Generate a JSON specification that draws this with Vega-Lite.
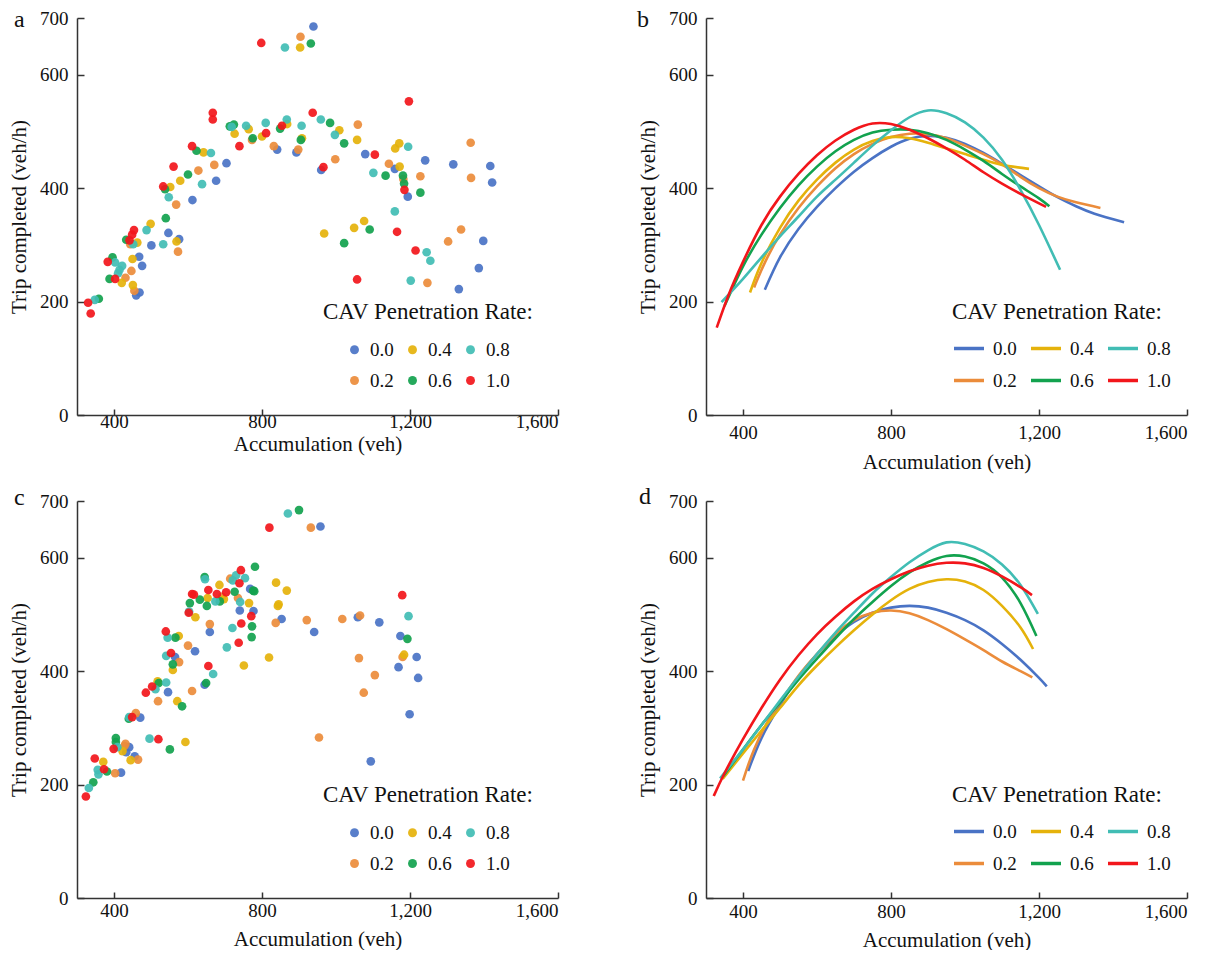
{
"$schema": "https://vega.github.io/schema/vega-lite/v6.json",
"padding": {"left": 8, "top": 7, "right": 5, "bottom": 0},
"config": {
  "font": "Liberation Serif",
  "view": {"stroke": null},
  "axis": {"grid": false, "domainColor": "#333", "domainWidth": 1.5, "tickColor": "#333", "tickWidth": 1.5, "labelFont": "Liberation Serif", "titleFont": "Liberation Serif", "labelFontSize": 19, "titleFontSize": 21, "titleFontWeight": "normal", "labelColor": "#111", "titleColor": "#111"},
  "axisX": {"tickSize": -6},
  "axisY": {"tickSize": -7, "labelPadding": 16, "titlePadding": 10},
  "title": {"font": "Liberation Serif", "fontSize": 24, "fontWeight": "normal", "color": "#111"},
  "legend": {"titleLimit": 400, "titleFontSize": 23, "titleFontWeight": "normal", "titleColor": "#111", "titleFont": "Liberation Serif", "labelFont": "Liberation Serif", "labelFontSize": 19, "labelColor": "#111"}
},
"datasets": {
  "sa": [
{"r":"0.0","x":460,"y":211},{"r":"0.0","x":469,"y":216},{"r":"0.0","x":476,"y":263},{"r":"0.0","x":468,"y":279},{"r":"0.0","x":501,"y":299},{"r":"0.0","x":576,"y":310},{"r":"0.0","x":547,"y":321},{"r":"0.0","x":612,"y":379},{"r":"0.0","x":676,"y":413},{"r":"0.0","x":704,"y":444},{"r":"0.0","x":939,"y":685},{"r":"0.0","x":841,"y":468},{"r":"0.0","x":893,"y":463},{"r":"0.0","x":960,"y":432},{"r":"0.0","x":1079,"y":460},{"r":"0.0","x":1159,"y":434},{"r":"0.0","x":1194,"y":385},{"r":"0.0","x":1241,"y":449},{"r":"0.0","x":1317,"y":442},{"r":"0.0","x":1417,"y":439},{"r":"0.0","x":1422,"y":410},{"r":"0.0","x":1398,"y":307},{"r":"0.0","x":1386,"y":259},{"r":"0.0","x":1332,"y":222},
{"r":"0.2","x":455,"y":219},{"r":"0.2","x":431,"y":242},{"r":"0.2","x":447,"y":254},{"r":"0.2","x":444,"y":301},{"r":"0.2","x":573,"y":288},{"r":"0.2","x":568,"y":371},{"r":"0.2","x":628,"y":431},{"r":"0.2","x":671,"y":441},{"r":"0.2","x":904,"y":667},{"r":"0.2","x":773,"y":485},{"r":"0.2","x":832,"y":474},{"r":"0.2","x":898,"y":468},{"r":"0.2","x":998,"y":451},{"r":"0.2","x":1059,"y":512},{"r":"0.2","x":1143,"y":443},{"r":"0.2","x":1182,"y":416},{"r":"0.2","x":1228,"y":421},{"r":"0.2","x":1364,"y":480},{"r":"0.2","x":1365,"y":418},{"r":"0.2","x":1338,"y":327},{"r":"0.2","x":1303,"y":306},{"r":"0.2","x":1247,"y":233},
{"r":"0.4","x":451,"y":229},{"r":"0.4","x":421,"y":233},{"r":"0.4","x":450,"y":275},{"r":"0.4","x":463,"y":304},{"r":"0.4","x":569,"y":306},{"r":"0.4","x":499,"y":337},{"r":"0.4","x":552,"y":402},{"r":"0.4","x":579,"y":413},{"r":"0.4","x":642,"y":463},{"r":"0.4","x":903,"y":648},{"r":"0.4","x":726,"y":496},{"r":"0.4","x":764,"y":504},{"r":"0.4","x":800,"y":491},{"r":"0.4","x":868,"y":513},{"r":"0.4","x":908,"y":488},{"r":"0.4","x":1009,"y":502},{"r":"0.4","x":1057,"y":485},{"r":"0.4","x":1160,"y":470},{"r":"0.4","x":1171,"y":479},{"r":"0.4","x":1172,"y":438},{"r":"0.4","x":1076,"y":342},{"r":"0.4","x":1049,"y":330},{"r":"0.4","x":968,"y":320},
{"r":"0.6","x":359,"y":205},{"r":"0.6","x":388,"y":240},{"r":"0.6","x":396,"y":278},{"r":"0.6","x":433,"y":309},{"r":"0.6","x":540,"y":347},{"r":"0.6","x":538,"y":398},{"r":"0.6","x":600,"y":424},{"r":"0.6","x":623,"y":466},{"r":"0.6","x":932,"y":655},{"r":"0.6","x":713,"y":509},{"r":"0.6","x":724,"y":512},{"r":"0.6","x":775,"y":488},{"r":"0.6","x":849,"y":505},{"r":"0.6","x":905,"y":485},{"r":"0.6","x":984,"y":515},{"r":"0.6","x":1022,"y":479},{"r":"0.6","x":1134,"y":422},{"r":"0.6","x":1181,"y":422},{"r":"0.6","x":1184,"y":408},{"r":"0.6","x":1228,"y":392},{"r":"0.6","x":1091,"y":327},{"r":"0.6","x":1022,"y":303},
{"r":"0.8","x":348,"y":203},{"r":"0.8","x":411,"y":250},{"r":"0.8","x":415,"y":256},{"r":"0.8","x":422,"y":263},{"r":"0.8","x":403,"y":269},{"r":"0.8","x":452,"y":301},{"r":"0.8","x":533,"y":301},{"r":"0.8","x":488,"y":326},{"r":"0.8","x":548,"y":384},{"r":"0.8","x":638,"y":407},{"r":"0.8","x":662,"y":462},{"r":"0.8","x":862,"y":648},{"r":"0.8","x":718,"y":508},{"r":"0.8","x":757,"y":510},{"r":"0.8","x":810,"y":515},{"r":"0.8","x":867,"y":521},{"r":"0.8","x":907,"y":510},{"r":"0.8","x":959,"y":521},{"r":"0.8","x":997,"y":494},{"r":"0.8","x":1101,"y":427},{"r":"0.8","x":1195,"y":473},{"r":"0.8","x":1159,"y":359},{"r":"0.8","x":1245,"y":287},{"r":"0.8","x":1255,"y":272},{"r":"0.8","x":1202,"y":237},
{"r":"1.0","x":330,"y":198},{"r":"1.0","x":337,"y":179},{"r":"1.0","x":403,"y":240},{"r":"1.0","x":383,"y":270},{"r":"1.0","x":442,"y":308},{"r":"1.0","x":449,"y":318},{"r":"1.0","x":454,"y":326},{"r":"1.0","x":533,"y":403},{"r":"1.0","x":561,"y":438},{"r":"1.0","x":611,"y":474},{"r":"1.0","x":667,"y":533},{"r":"1.0","x":667,"y":521},{"r":"1.0","x":798,"y":656},{"r":"1.0","x":739,"y":474},{"r":"1.0","x":811,"y":497},{"r":"1.0","x":854,"y":510},{"r":"1.0","x":937,"y":533},{"r":"1.0","x":966,"y":437},{"r":"1.0","x":1105,"y":459},{"r":"1.0","x":1185,"y":397},{"r":"1.0","x":1197,"y":553},{"r":"1.0","x":1165,"y":323},{"r":"1.0","x":1215,"y":290},{"r":"1.0","x":1057,"y":239}
  ],
  "sc": [
{"r":"0.0","x":419,"y":221},{"r":"0.0","x":441,"y":266},{"r":"0.0","x":433,"y":257},{"r":"0.0","x":456,"y":250},{"r":"0.0","x":471,"y":318},{"r":"0.0","x":546,"y":363},{"r":"0.0","x":565,"y":425},{"r":"0.0","x":619,"y":435},{"r":"0.0","x":645,"y":376},{"r":"0.0","x":659,"y":469},{"r":"0.0","x":740,"y":507},{"r":"0.0","x":768,"y":545},{"r":"0.0","x":777,"y":506},{"r":"0.0","x":958,"y":655},{"r":"0.0","x":853,"y":492},{"r":"0.0","x":941,"y":469},{"r":"0.0","x":1059,"y":495},{"r":"0.0","x":1117,"y":486},{"r":"0.0","x":1174,"y":462},{"r":"0.0","x":1218,"y":425},{"r":"0.0","x":1169,"y":407},{"r":"0.0","x":1222,"y":388},{"r":"0.0","x":1199,"y":324},{"r":"0.0","x":1094,"y":241},
{"r":"0.2","x":403,"y":220},{"r":"0.2","x":431,"y":272},{"r":"0.2","x":428,"y":268},{"r":"0.2","x":465,"y":244},{"r":"0.2","x":459,"y":326},{"r":"0.2","x":519,"y":347},{"r":"0.2","x":611,"y":365},{"r":"0.2","x":576,"y":416},{"r":"0.2","x":600,"y":445},{"r":"0.2","x":659,"y":483},{"r":"0.2","x":692,"y":531},{"r":"0.2","x":714,"y":563},{"r":"0.2","x":735,"y":529},{"r":"0.2","x":932,"y":653},{"r":"0.2","x":837,"y":485},{"r":"0.2","x":921,"y":490},{"r":"0.2","x":1017,"y":492},{"r":"0.2","x":1065,"y":498},{"r":"0.2","x":1180,"y":425},{"r":"0.2","x":1062,"y":423},{"r":"0.2","x":1105,"y":393},{"r":"0.2","x":1075,"y":362},{"r":"0.2","x":954,"y":283},
{"r":"0.4","x":371,"y":240},{"r":"0.4","x":423,"y":259},{"r":"0.4","x":445,"y":243},{"r":"0.4","x":593,"y":275},{"r":"0.4","x":518,"y":382},{"r":"0.4","x":571,"y":347},{"r":"0.4","x":559,"y":402},{"r":"0.4","x":575,"y":462},{"r":"0.4","x":620,"y":495},{"r":"0.4","x":653,"y":529},{"r":"0.4","x":685,"y":552},{"r":"0.4","x":697,"y":527},{"r":"0.4","x":751,"y":410},{"r":"0.4","x":765,"y":520},{"r":"0.4","x":838,"y":556},{"r":"0.4","x":867,"y":542},{"r":"0.4","x":843,"y":515},{"r":"0.4","x":845,"y":518},{"r":"0.4","x":819,"y":424},{"r":"0.4","x":1184,"y":429},
{"r":"0.6","x":344,"y":204},{"r":"0.6","x":381,"y":223},{"r":"0.6","x":405,"y":282},{"r":"0.6","x":405,"y":275},{"r":"0.6","x":551,"y":262},{"r":"0.6","x":440,"y":316},{"r":"0.6","x":521,"y":379},{"r":"0.6","x":584,"y":338},{"r":"0.6","x":649,"y":379},{"r":"0.6","x":566,"y":459},{"r":"0.6","x":559,"y":412},{"r":"0.6","x":605,"y":520},{"r":"0.6","x":632,"y":526},{"r":"0.6","x":651,"y":515},{"r":"0.6","x":645,"y":566},{"r":"0.6","x":686,"y":523},{"r":"0.6","x":726,"y":540},{"r":"0.6","x":781,"y":584},{"r":"0.6","x":776,"y":542},{"r":"0.6","x":779,"y":541},{"r":"0.6","x":773,"y":479},{"r":"0.6","x":772,"y":460},{"r":"0.6","x":900,"y":684},{"r":"0.6","x":1193,"y":457},
{"r":"0.8","x":332,"y":194},{"r":"0.8","x":358,"y":218},{"r":"0.8","x":356,"y":226},{"r":"0.8","x":409,"y":266},{"r":"0.8","x":496,"y":281},{"r":"0.8","x":441,"y":319},{"r":"0.8","x":512,"y":368},{"r":"0.8","x":541,"y":380},{"r":"0.8","x":668,"y":395},{"r":"0.8","x":545,"y":459},{"r":"0.8","x":541,"y":427},{"r":"0.8","x":705,"y":442},{"r":"0.8","x":720,"y":476},{"r":"0.8","x":603,"y":505},{"r":"0.8","x":646,"y":562},{"r":"0.8","x":674,"y":523},{"r":"0.8","x":721,"y":560},{"r":"0.8","x":730,"y":569},{"r":"0.8","x":754,"y":564},{"r":"0.8","x":741,"y":522},{"r":"0.8","x":870,"y":678},{"r":"0.8","x":1196,"y":497},
{"r":"1.0","x":324,"y":179},{"r":"1.0","x":373,"y":227},{"r":"1.0","x":348,"y":246},{"r":"1.0","x":399,"y":263},{"r":"1.0","x":520,"y":280},{"r":"1.0","x":449,"y":319},{"r":"1.0","x":486,"y":362},{"r":"1.0","x":503,"y":373},{"r":"1.0","x":655,"y":409},{"r":"1.0","x":540,"y":470},{"r":"1.0","x":554,"y":432},{"r":"1.0","x":737,"y":450},{"r":"1.0","x":744,"y":484},{"r":"1.0","x":602,"y":503},{"r":"1.0","x":611,"y":536},{"r":"1.0","x":616,"y":535},{"r":"1.0","x":655,"y":543},{"r":"1.0","x":678,"y":536},{"r":"1.0","x":703,"y":539},{"r":"1.0","x":743,"y":578},{"r":"1.0","x":739,"y":555},{"r":"1.0","x":771,"y":497},{"r":"1.0","x":820,"y":653},{"r":"1.0","x":1179,"y":534}
  ],
  "lb": [
{"r":"0.0","x":459,"y":221},{"r":"0.0","x":500,"y":278},{"r":"0.0","x":550,"y":328},{"r":"0.0","x":600,"y":367},{"r":"0.0","x":650,"y":400},{"r":"0.0","x":700,"y":429},{"r":"0.0","x":750,"y":453},{"r":"0.0","x":800,"y":473},{"r":"0.0","x":850,"y":487},{"r":"0.0","x":900,"y":492},{"r":"0.0","x":950,"y":489},{"r":"0.0","x":1000,"y":478},{"r":"0.0","x":1050,"y":462},{"r":"0.0","x":1100,"y":443},{"r":"0.0","x":1150,"y":423},{"r":"0.0","x":1200,"y":403},{"r":"0.0","x":1250,"y":384},{"r":"0.0","x":1300,"y":368},{"r":"0.0","x":1350,"y":355},{"r":"0.0","x":1430,"y":340},
{"r":"0.2","x":430,"y":225},{"r":"0.2","x":460,"y":270},{"r":"0.2","x":500,"y":318},{"r":"0.2","x":550,"y":365},{"r":"0.2","x":600,"y":403},{"r":"0.2","x":650,"y":435},{"r":"0.2","x":700,"y":460},{"r":"0.2","x":750,"y":478},{"r":"0.2","x":800,"y":490},{"r":"0.2","x":850,"y":496},{"r":"0.2","x":900,"y":495},{"r":"0.2","x":950,"y":488},{"r":"0.2","x":1000,"y":475},{"r":"0.2","x":1050,"y":460},{"r":"0.2","x":1100,"y":442},{"r":"0.2","x":1150,"y":420},{"r":"0.2","x":1200,"y":400},{"r":"0.2","x":1250,"y":385},{"r":"0.2","x":1300,"y":375},{"r":"0.2","x":1366,"y":365},
{"r":"0.4","x":419,"y":216},{"r":"0.4","x":450,"y":268},{"r":"0.4","x":500,"y":330},{"r":"0.4","x":550,"y":378},{"r":"0.4","x":600,"y":415},{"r":"0.4","x":650,"y":445},{"r":"0.4","x":700,"y":468},{"r":"0.4","x":750,"y":483},{"r":"0.4","x":800,"y":490},{"r":"0.4","x":850,"y":488},{"r":"0.4","x":900,"y":480},{"r":"0.4","x":950,"y":470},{"r":"0.4","x":1000,"y":460},{"r":"0.4","x":1050,"y":450},{"r":"0.4","x":1100,"y":441},{"r":"0.4","x":1173,"y":434},
{"r":"0.6","x":350,"y":192},{"r":"0.6","x":400,"y":262},{"r":"0.6","x":450,"y":318},{"r":"0.6","x":500,"y":365},{"r":"0.6","x":550,"y":405},{"r":"0.6","x":600,"y":438},{"r":"0.6","x":650,"y":465},{"r":"0.6","x":700,"y":485},{"r":"0.6","x":750,"y":498},{"r":"0.6","x":800,"y":503},{"r":"0.6","x":850,"y":503},{"r":"0.6","x":900,"y":497},{"r":"0.6","x":950,"y":485},{"r":"0.6","x":1000,"y":468},{"r":"0.6","x":1050,"y":448},{"r":"0.6","x":1100,"y":425},{"r":"0.6","x":1150,"y":403},{"r":"0.6","x":1200,"y":382},{"r":"0.6","x":1228,"y":368},
{"r":"0.8","x":342,"y":199},{"r":"0.8","x":400,"y":240},{"r":"0.8","x":450,"y":278},{"r":"0.8","x":500,"y":315},{"r":"0.8","x":550,"y":350},{"r":"0.8","x":600,"y":385},{"r":"0.8","x":650,"y":415},{"r":"0.8","x":700,"y":445},{"r":"0.8","x":750,"y":475},{"r":"0.8","x":800,"y":502},{"r":"0.8","x":850,"y":525},{"r":"0.8","x":900,"y":537},{"r":"0.8","x":950,"y":532},{"r":"0.8","x":1000,"y":516},{"r":"0.8","x":1050,"y":489},{"r":"0.8","x":1100,"y":450},{"r":"0.8","x":1150,"y":397},{"r":"0.8","x":1200,"y":335},{"r":"0.8","x":1257,"y":256},
{"r":"1.0","x":329,"y":154},{"r":"1.0","x":360,"y":210},{"r":"1.0","x":400,"y":270},{"r":"1.0","x":450,"y":335},{"r":"1.0","x":500,"y":385},{"r":"1.0","x":550,"y":425},{"r":"1.0","x":600,"y":458},{"r":"1.0","x":650,"y":484},{"r":"1.0","x":700,"y":503},{"r":"1.0","x":750,"y":514},{"r":"1.0","x":800,"y":513},{"r":"1.0","x":850,"y":503},{"r":"1.0","x":900,"y":488},{"r":"1.0","x":950,"y":470},{"r":"1.0","x":1000,"y":450},{"r":"1.0","x":1050,"y":428},{"r":"1.0","x":1100,"y":408},{"r":"1.0","x":1150,"y":390},{"r":"1.0","x":1219,"y":367}
  ],
  "ld": [
{"r":"0.0","x":414,"y":224},{"r":"0.0","x":450,"y":282},{"r":"0.0","x":500,"y":340},{"r":"0.0","x":550,"y":390},{"r":"0.0","x":600,"y":430},{"r":"0.0","x":650,"y":462},{"r":"0.0","x":700,"y":487},{"r":"0.0","x":750,"y":503},{"r":"0.0","x":800,"y":512},{"r":"0.0","x":850,"y":515},{"r":"0.0","x":900,"y":512},{"r":"0.0","x":950,"y":503},{"r":"0.0","x":1000,"y":490},{"r":"0.0","x":1050,"y":472},{"r":"0.0","x":1100,"y":448},{"r":"0.0","x":1150,"y":420},{"r":"0.0","x":1200,"y":388},{"r":"0.0","x":1221,"y":373},
{"r":"0.2","x":400,"y":207},{"r":"0.2","x":430,"y":262},{"r":"0.2","x":470,"y":315},{"r":"0.2","x":500,"y":345},{"r":"0.2","x":550,"y":392},{"r":"0.2","x":600,"y":430},{"r":"0.2","x":650,"y":465},{"r":"0.2","x":700,"y":490},{"r":"0.2","x":750,"y":503},{"r":"0.2","x":800,"y":507},{"r":"0.2","x":850,"y":502},{"r":"0.2","x":900,"y":490},{"r":"0.2","x":950,"y":474},{"r":"0.2","x":1000,"y":456},{"r":"0.2","x":1050,"y":437},{"r":"0.2","x":1100,"y":417},{"r":"0.2","x":1150,"y":400},{"r":"0.2","x":1182,"y":389},
{"r":"0.4","x":345,"y":210},{"r":"0.4","x":400,"y":255},{"r":"0.4","x":450,"y":295},{"r":"0.4","x":500,"y":335},{"r":"0.4","x":550,"y":375},{"r":"0.4","x":600,"y":410},{"r":"0.4","x":650,"y":442},{"r":"0.4","x":700,"y":472},{"r":"0.4","x":750,"y":500},{"r":"0.4","x":800,"y":525},{"r":"0.4","x":850,"y":545},{"r":"0.4","x":900,"y":557},{"r":"0.4","x":950,"y":562},{"r":"0.4","x":1000,"y":558},{"r":"0.4","x":1050,"y":543},{"r":"0.4","x":1100,"y":515},{"r":"0.4","x":1150,"y":477},{"r":"0.4","x":1184,"y":439},
{"r":"0.6","x":347,"y":215},{"r":"0.6","x":400,"y":262},{"r":"0.6","x":450,"y":305},{"r":"0.6","x":500,"y":345},{"r":"0.6","x":550,"y":385},{"r":"0.6","x":600,"y":422},{"r":"0.6","x":650,"y":458},{"r":"0.6","x":700,"y":492},{"r":"0.6","x":750,"y":522},{"r":"0.6","x":800,"y":550},{"r":"0.6","x":850,"y":574},{"r":"0.6","x":900,"y":592},{"r":"0.6","x":950,"y":603},{"r":"0.6","x":1000,"y":602},{"r":"0.6","x":1050,"y":590},{"r":"0.6","x":1100,"y":565},{"r":"0.6","x":1150,"y":520},{"r":"0.6","x":1193,"y":462},
{"r":"0.8","x":338,"y":211},{"r":"0.8","x":400,"y":262},{"r":"0.8","x":450,"y":305},{"r":"0.8","x":500,"y":348},{"r":"0.8","x":550,"y":390},{"r":"0.8","x":600,"y":430},{"r":"0.8","x":650,"y":468},{"r":"0.8","x":700,"y":503},{"r":"0.8","x":750,"y":537},{"r":"0.8","x":800,"y":566},{"r":"0.8","x":850,"y":592},{"r":"0.8","x":900,"y":613},{"r":"0.8","x":950,"y":627},{"r":"0.8","x":1000,"y":624},{"r":"0.8","x":1050,"y":611},{"r":"0.8","x":1100,"y":588},{"r":"0.8","x":1150,"y":552},{"r":"0.8","x":1197,"y":501},
{"r":"1.0","x":321,"y":180},{"r":"1.0","x":350,"y":220},{"r":"1.0","x":400,"y":280},{"r":"1.0","x":450,"y":335},{"r":"1.0","x":500,"y":385},{"r":"1.0","x":550,"y":428},{"r":"1.0","x":600,"y":465},{"r":"1.0","x":650,"y":496},{"r":"1.0","x":700,"y":523},{"r":"1.0","x":750,"y":545},{"r":"1.0","x":800,"y":562},{"r":"1.0","x":850,"y":576},{"r":"1.0","x":900,"y":586},{"r":"1.0","x":950,"y":591},{"r":"1.0","x":1000,"y":590},{"r":"1.0","x":1050,"y":582},{"r":"1.0","x":1100,"y":567},{"r":"1.0","x":1150,"y":548},{"r":"1.0","x":1181,"y":534}
  ]
},
"columns": 2,
"spacing": {"row": 86, "column": 148},
"bounds": "flush",
"resolve": {"scale": {"color": "independent"}, "legend": {"color": "independent"}},
"concat": [
  {
    "width": 481, "height": 397,
    "title": {"text": "a", "anchor": "start", "frame": "group", "dx": -63, "offset": -22.5},
    "data": {"name": "sa"},
    "mark": {"type": "circle", "size": 75, "opacity": 0.92},
    "encoding": {
      "x": {"field": "x", "type": "quantitative", "scale": {"domain": [300, 1600], "nice": false, "zero": false}, "axis": {"values": [400, 800, 1200, 1600], "format": ",.0f", "title": "Accumulation (veh)", "labelPadding": 3, "titlePadding": 2}},
      "y": {"field": "y", "type": "quantitative", "scale": {"domain": [0, 700], "nice": false}, "axis": {"values": [0, 200, 400, 600, 700], "title": "Trip completed (veh/h)"}},
      "color": {"field": "r", "type": "nominal", "scale": {"domain": ["0.0", "0.2", "0.4", "0.6", "0.8", "1.0"], "range": ["#4a73c5", "#eb8c3b", "#e5b20b", "#12a24e", "#41bdb4", "#f2161b"]},
        "legend": {"title": "CAV Penetration Rate:", "orient": "none", "legendX": 246, "legendY": 283, "columns": 3, "symbolType": "circle", "symbolSize": 80, "symbolOpacity": 0.92, "columnPadding": 9, "rowPadding": 11, "titlePadding": 16, "labelOffset": 6, "encode": {"title": {"update": {"dx": {"value": -22}}}}}}
    }
  },
  {
    "width": 481, "height": 397,
    "title": {"text": "b", "anchor": "start", "frame": "group", "dx": -69, "offset": -22.5},
    "data": {"name": "lb"},
    "mark": {"type": "line", "interpolate": "natural", "strokeWidth": 2.6},
    "encoding": {
      "x": {"field": "x", "type": "quantitative", "scale": {"domain": [300, 1600], "nice": false, "zero": false}, "axis": {"values": [400, 800, 1200, 1600], "format": ",.0f", "title": "Accumulation (veh)", "labelPadding": 14, "titlePadding": 9}},
      "y": {"field": "y", "type": "quantitative", "scale": {"domain": [0, 700], "nice": false}, "axis": {"values": [0, 200, 400, 600, 700], "title": "Trip completed (veh/h)"}},
      "color": {"field": "r", "type": "nominal", "scale": {"domain": ["0.0", "0.2", "0.4", "0.6", "0.8", "1.0"], "range": ["#4a73c5", "#eb8c3b", "#e5b20b", "#12a24e", "#41bdb4", "#f2161b"]},
        "legend": {"title": "CAV Penetration Rate:", "orient": "none", "legendX": 246, "legendY": 283, "columns": 3, "symbolType": "stroke", "symbolSize": 900, "symbolStrokeWidth": 3.5, "columnPadding": 7, "rowPadding": 5, "titlePadding": 7.5, "labelOffset": 7}}
    }
  },
  {
    "width": 481, "height": 397,
    "title": {"text": "c", "anchor": "start", "frame": "group", "dx": -63, "offset": -18},
    "data": {"name": "sc"},
    "mark": {"type": "circle", "size": 75, "opacity": 0.92},
    "encoding": {
      "x": {"field": "x", "type": "quantitative", "scale": {"domain": [300, 1600], "nice": false, "zero": false}, "axis": {"values": [400, 800, 1200, 1600], "format": ",.0f", "title": "Accumulation (veh)", "labelPadding": 9, "titlePadding": 8}},
      "y": {"field": "y", "type": "quantitative", "scale": {"domain": [0, 700], "nice": false}, "axis": {"values": [0, 200, 400, 600, 700], "title": "Trip completed (veh/h)"}},
      "color": {"field": "r", "type": "nominal", "scale": {"domain": ["0.0", "0.2", "0.4", "0.6", "0.8", "1.0"], "range": ["#4a73c5", "#eb8c3b", "#e5b20b", "#12a24e", "#41bdb4", "#f2161b"]},
        "legend": {"title": "CAV Penetration Rate:", "orient": "none", "legendX": 246, "legendY": 283, "columns": 3, "symbolType": "circle", "symbolSize": 80, "symbolOpacity": 0.92, "columnPadding": 9, "rowPadding": 11, "titlePadding": 16, "labelOffset": 6, "encode": {"title": {"update": {"dx": {"value": -22}}}}}}
    }
  },
  {
    "width": 481, "height": 397,
    "title": {"text": "d", "anchor": "start", "frame": "group", "dx": -67, "offset": -17},
    "data": {"name": "ld"},
    "mark": {"type": "line", "interpolate": "natural", "strokeWidth": 2.6},
    "encoding": {
      "x": {"field": "x", "type": "quantitative", "scale": {"domain": [300, 1600], "nice": false, "zero": false}, "axis": {"values": [400, 800, 1200, 1600], "format": ",.0f", "title": "Accumulation (veh)", "labelPadding": 10, "titlePadding": 8}},
      "y": {"field": "y", "type": "quantitative", "scale": {"domain": [0, 700], "nice": false}, "axis": {"values": [0, 200, 400, 600, 700], "title": "Trip completed (veh/h)"}},
      "color": {"field": "r", "type": "nominal", "scale": {"domain": ["0.0", "0.2", "0.4", "0.6", "0.8", "1.0"], "range": ["#4a73c5", "#eb8c3b", "#e5b20b", "#12a24e", "#41bdb4", "#f2161b"]},
        "legend": {"title": "CAV Penetration Rate:", "orient": "none", "legendX": 246, "legendY": 283, "columns": 3, "symbolType": "stroke", "symbolSize": 900, "symbolStrokeWidth": 3.5, "columnPadding": 7, "rowPadding": 5, "titlePadding": 7.5, "labelOffset": 7}}
    }
  }
]
}
